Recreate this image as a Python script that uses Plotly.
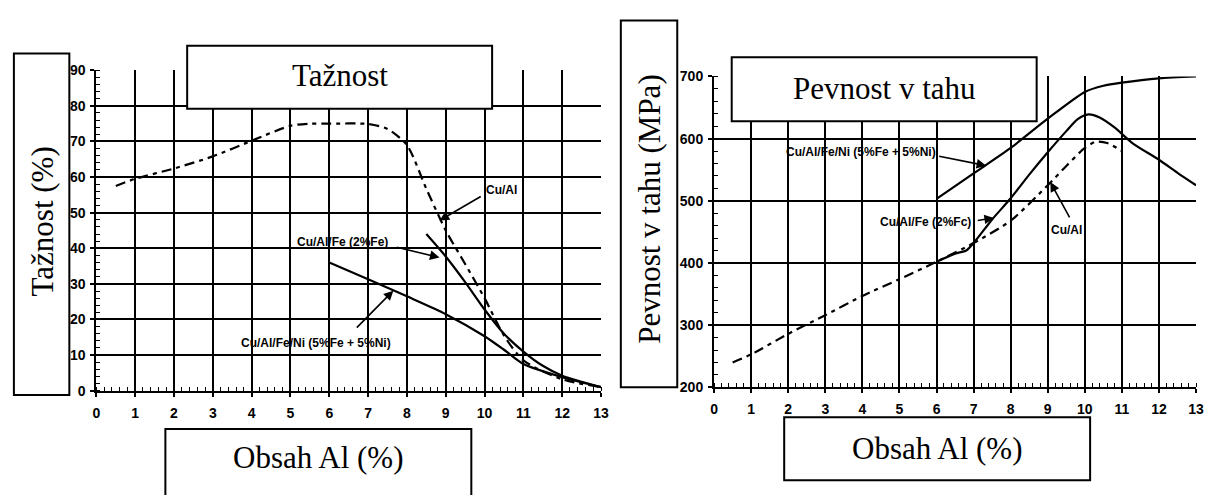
import plotly.graph_objects as go

W, H = 1210, 495

# ---------------- data ----------------
# Left chart: Tažnost (%)
al_cual_L = [0.5, 1, 2, 3, 4, 5, 5.5, 6, 7, 7.5, 8, 8.5, 9, 9.5, 10, 10.5, 11, 12, 13]
t_cual = [57.5, 59.5, 62.4, 65.8, 70.2, 74.4, 75, 75, 74.9, 73.5, 69, 56.7, 45, 35.6, 26, 15.5, 8.5, 3.2, 1]
al_fe_L = [8.5, 9, 9.5, 10, 10.5, 11, 11.5, 12, 12.5, 13]
t_fe = [44, 37.7, 30.5, 22.8, 16, 11, 7, 4.2, 2.5, 1]
al_feni_L = [6, 7, 8, 9, 10, 10.5, 11, 12, 13]
t_feni = [36, 31.3, 26.5, 21.5, 15.3, 11.5, 7.5, 3.8, 1]

# Right chart: Pevnost v tahu (MPa)
al_cual_R = [0.5, 1, 2, 3, 4, 5, 6, 7, 8, 9, 9.5, 10, 10.3, 10.6, 11]
p_cual = [240, 253, 286, 316, 347, 374, 402, 432, 468, 525, 556, 585, 595, 593, 580]
al_fe_R = [6, 6.5, 6.8, 7, 7.5, 8, 8.5, 9, 9.5, 9.8, 10.1, 10.4, 10.8, 11.3, 12, 12.5, 13]
p_fe = [402, 415, 420, 432, 470, 504, 542, 578, 612, 631, 639, 634, 618, 592, 566, 545, 525]
al_feni_R = [6, 7, 8, 9, 10, 10.5, 11, 12, 13]
p_feni = [503, 544, 585, 632, 675, 685, 690, 697, 700]

x_ticks = list(range(0, 14))
y_ticks_L = list(range(0, 100, 10))
y_ticks_R = list(range(200, 800, 100))

lbl_cual = "Cu/Al"
lbl_fe = "Cu/Al/Fe (2%Fe)"
lbl_fe_R = "Cu/Al/Fe (2%Fc)"
lbl_feni = "Cu/Al/Fe/Ni (5%Fe + 5%Ni)"

# label anchor (text centre, arrow tail, arrow head) in data units
ann_L = [
    (lbl_cual, (10.43, 56.4), (9.94, 54.8), (8.84, 47.8)),
    (lbl_fe, (6.34, 41.7), (7.70, 40.4), (8.84, 37.4)),
    (lbl_feni, (5.66, 13.5), (6.67, 17.3), (7.65, 28.1)),
]
ann_R = [
    (lbl_feni, (3.97, 578), (6.03, 572), (7.34, 556.5)),
    (lbl_fe_R, (5.71, 466), (7.07, 468), (7.55, 472.5)),
    (lbl_cual, (9.50, 453), (9.61, 471), (9.07, 530)),
]

# ---------------- figure ----------------
def pxx(x):
    return x / W

def pyy(y):
    return 1 - y / H

fig = go.Figure()

dash_cual = "10px,5px,4px,5px"
common_line = dict(color="black", width=2.2, shape="spline", smoothing=0.7)

fig.add_trace(go.Scatter(x=al_cual_L, y=t_cual, mode="lines", xaxis="x", yaxis="y",
                         line=dict(common_line, dash=dash_cual), hoverinfo="skip", showlegend=False))
fig.add_trace(go.Scatter(x=al_fe_L, y=t_fe, mode="lines", xaxis="x", yaxis="y",
                         line=common_line, hoverinfo="skip", showlegend=False))
fig.add_trace(go.Scatter(x=al_feni_L, y=t_feni, mode="lines", xaxis="x", yaxis="y",
                         line=common_line, hoverinfo="skip", showlegend=False))

fig.add_trace(go.Scatter(x=al_cual_R, y=p_cual, mode="lines", xaxis="x2", yaxis="y2",
                         line=dict(common_line, dash=dash_cual), hoverinfo="skip", showlegend=False))
fig.add_trace(go.Scatter(x=al_fe_R, y=p_fe, mode="lines", xaxis="x2", yaxis="y2",
                         line=common_line, hoverinfo="skip", showlegend=False))
fig.add_trace(go.Scatter(x=al_feni_R, y=p_feni, mode="lines", xaxis="x2", yaxis="y2",
                         line=common_line, hoverinfo="skip", showlegend=False))

tickfont = dict(family="Liberation Sans, Arial", size=14, color="black", weight="bold")

def xaxis_cfg(domain, anchor):
    return dict(domain=domain, anchor=anchor, range=[0, 13], tickvals=x_ticks,
                ticktext=[str(v) for v in x_ticks],
                showgrid=True, gridcolor="black", gridwidth=1.5,
                showline=True, linecolor="black", linewidth=2.2,
                ticks="outside", ticklen=4, tickwidth=1.5, tickcolor="black",
                ticklabelstandoff=4,
                minor=dict(dtick=0.2, tick0=0, ticks="inside", ticklen=4, tickwidth=1.2,
                           tickcolor="black", showgrid=False),
                tickfont=tickfont, zeroline=False, fixedrange=True)

def yaxis_cfg(domain, anchor, rng, tv, mdt):
    return dict(domain=domain, anchor=anchor, range=rng, tickvals=tv,
                ticktext=[str(v) for v in tv],
                showgrid=True, gridcolor="black", gridwidth=1.5,
                showline=True, linecolor="black", linewidth=2.2,
                ticks="outside", ticklen=4, tickwidth=1.5, tickcolor="black",
                ticklabelstandoff=2,
                minor=dict(dtick=mdt, tick0=rng[0], ticks="inside", ticklen=4, tickwidth=1.2,
                           tickcolor="black", showgrid=False),
                tickfont=tickfont, zeroline=False, fixedrange=True)

L_x = [pxx(93.3), pxx(603)]
L_y = [pyy(395.5), pyy(64.3)]
R_x = [pxx(717.2), pxx(1204)]
R_y = [pyy(392), pyy(70.7)]

shapes = []
annotations = []

def box(x0, y0, x1, y1, text, angle=0, cx=None, cy=None):
    shapes.append(dict(type="rect", xref="paper", yref="paper",
                       x0=pxx(x0), x1=pxx(x1), y0=pyy(y1), y1=pyy(y0),
                       fillcolor="white", line=dict(color="black", width=2), layer="above"))
    if cx is None:
        cx = (x0 + x1) / 2
    if cy is None:
        cy = (y0 + y1) / 2
    annotations.append(dict(xref="paper", yref="paper", x=pxx(cx), y=pyy(cy),
                            text=text, showarrow=False, textangle=angle,
                            xanchor="center", yanchor="middle",
                            font=dict(family="Liberation Serif, Times New Roman", size=31, color="black")))

box(185, 39, 493, 104, "Tažnost", cy=70)
box(10, 47, 66, 400, "Tažnost (%)", angle=-90, cx=39, cy=221)
box(163, 435, 472, 520, "Obsah Al (%)", cy=464)
box(735, 51, 1043, 117, "Pevnost v tahu", cy=83)
box(623, 13, 680, 392, "Pevnost v tahu (MPa)", angle=-90, cx=652, cy=208)
box(788, 423, 1097, 488, "Obsah Al (%)", cy=455)

lblfont = dict(family="Liberation Sans, Arial", size=12, color="black", weight="bold")
for anns, xr, yr in [(ann_L, "x", "y"), (ann_R, "x2", "y2")]:
    for text, (tx, ty), (ax_, ay_), (hx, hy) in anns:
        annotations.append(dict(xref=xr, yref=yr, x=tx, y=ty, text=text, showarrow=False,
                                xanchor="center", yanchor="middle", font=lblfont,
                                bgcolor="rgba(255,255,255,0)"))
        annotations.append(dict(xref=xr, yref=yr, axref=xr, ayref=yr, x=hx, y=hy, ax=ax_, ay=ay_,
                                text="", showarrow=True, arrowhead=2, arrowsize=1.2,
                                arrowwidth=1.6, arrowcolor="black", standoff=0, startstandoff=0))

fig.update_layout(
    width=W, height=H,
    margin=dict(l=0, r=0, t=0, b=0),
    paper_bgcolor="white", plot_bgcolor="white",
    xaxis=xaxis_cfg(L_x, "y"),
    yaxis=yaxis_cfg(L_y, "x", [0, 90], y_ticks_L, 2),
    xaxis2=xaxis_cfg(R_x, "y2"),
    yaxis2=yaxis_cfg(R_y, "x2", [200, 700], y_ticks_R, 20),
    shapes=shapes,
    annotations=annotations,
    showlegend=False,
)

fig.write_html("out.html", config={"displayModeBar": False})
